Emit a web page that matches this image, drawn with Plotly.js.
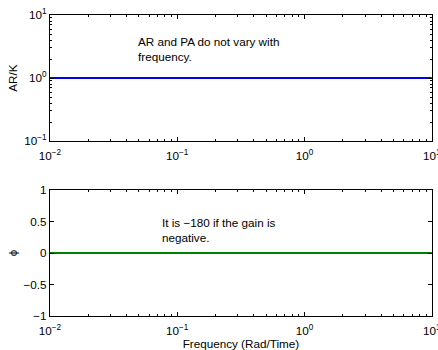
<!DOCTYPE html>
<html><head><meta charset="utf-8">
<script src="https://cdn.plot.ly/plotly-3.0.1.min.js"></script>
<style>html,body{margin:0;padding:0;background:#fff}</style>
</head><body><div id="c" style="width:438px;height:350px"></div>
<script>
const freq = [0.01, 0.1, 1, 10];
const arK = [1, 1, 1, 1];
const phase = [0, 0, 0, 0];
const xTickVals = [0.01, 0.1, 1, 10];
const xTickText = ['10<sup>−2</sup>', '10<sup>−1</sup>', '10<sup>0</sup>', '10<sup>1</sup>'];
const yTopVals = [0.1, 1, 10];
const yTopText = ['10<sup>−1</sup>', '10<sup>0</sup>', '10<sup>1</sup>'];
const yBotVals = [-1, -0.5, 0, 0.5, 1];
const yBotText = ['−1', '−0.5', '0', '0.5', '1'];

const F = 'Liberation Sans, Arial, Helvetica, sans-serif';
const FS = 11.7;
const ax = {
  showgrid: false, zeroline: false, showline: true, linecolor: '#000', linewidth: 1,
  mirror: 'ticks', ticks: 'inside', ticklen: 4, tickcolor: '#000', automargin: false,
  ticklabeloverflow: 'allow',
  tickfont: {family: F, size: FS, color: '#000'}
};
const minorLog = {ticks: 'inside', ticklen: 2, tickcolor: '#000', dtick: 'D1', showgrid: false};

const data = [
  {x: freq, y: arK, type: 'scatter', mode: 'lines', line: {color: '#0000ff', width: 2}, xaxis: 'x', yaxis: 'y'},
  {x: freq, y: phase, type: 'scatter', mode: 'lines', line: {color: '#008000', width: 2}, xaxis: 'x2', yaxis: 'y2'}
];
const layout = {
  width: 438, height: 350, margin: {l: 0, r: 0, t: 0, b: 0},
  paper_bgcolor: '#fff', plot_bgcolor: '#fff', showlegend: false,
  font: {family: F, size: FS, color: '#000'},
  xaxis: Object.assign({}, ax, {type: 'log', domain: [0.114, 0.986], anchor: 'y', range: [-2, 1],
    tickvals: xTickVals, ticktext: xTickText, minor: minorLog, ticklabelstandoff: 4}),
  yaxis: Object.assign({}, ax, {type: 'log', domain: [0.597, 0.957], anchor: 'x', range: [-1, 1],
    tickvals: yTopVals, ticktext: yTopText, minor: minorLog,
    title: {text: 'AR/K', font: {family: F, size: FS}}}),
  xaxis2: Object.assign({}, ax, {type: 'log', domain: [0.114, 0.986], anchor: 'y2', range: [-2, 1],
    tickvals: xTickVals, ticktext: xTickText, minor: minorLog, ticklabelstandoff: 4,
    title: {text: 'Frequency (Rad/Time)', font: {family: F, size: FS}}}),
  yaxis2: Object.assign({}, ax, {domain: [0.097, 0.457], anchor: 'x2', range: [-1, 1],
    tickvals: yBotVals, ticktext: yBotText,
    title: {text: 'ϕ', font: {family: F, size: FS}}}),
  annotations: [
    {xref: 'paper', yref: 'paper', x: 0.31, y: 0.859, xanchor: 'left', yanchor: 'middle', align: 'left', showarrow: false,
     text: 'AR and PA do not vary with<br>frequency.', font: {family: F, size: FS, color: '#000'}},
    {xref: 'paper', yref: 'paper', x: 0.365, y: 0.344, xanchor: 'left', yanchor: 'middle', align: 'left', showarrow: false,
     text: 'It is −180 if the gain is<br>negative.', font: {family: F, size: FS, color: '#000'}}
  ]
};
Plotly.newPlot('c', data, layout, {displayModeBar: false, staticPlot: true});
</script></body></html>
